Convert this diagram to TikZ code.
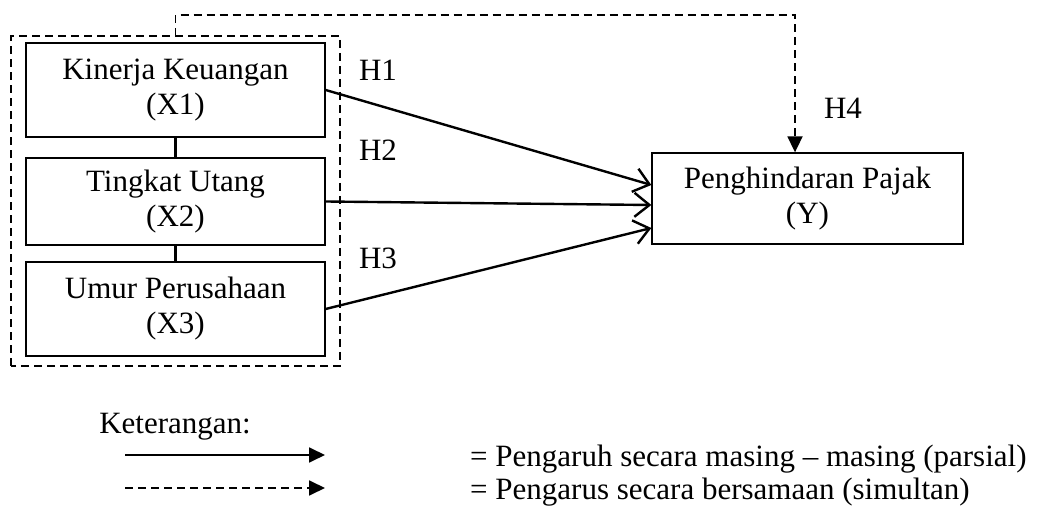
\documentclass[tikz,border=0pt]{standalone}
\usepackage{fontspec}
\setmainfont{Liberation Serif}
\usetikzlibrary{arrows.meta}
\begin{document}
\begin{tikzpicture}[x=1pt, y=1pt,
  varbox/.style={draw, line width=1.3pt, minimum width=299pt, align=center, inner sep=0pt},
  hlabel/.style={anchor=center},
  partial/.style={line width=2.4pt, -{Straight Barb[length=15pt, width=24pt, line width=2.4pt]}},
  simul/.style={line width=1.8pt, dash pattern=on 8pt off 5pt},
  filltip/.style={-{Triangle[length=16pt, width=15pt]}}]
\fontsize{31}{35}\selectfont
% Set the canvas dimensions
\useasboundingbox (0, 0) rectangle (1052, 511);

% Draw the independent variables
\node[varbox, minimum height=94pt] (x1) at (175.5, 421) {Kinerja Keuangan\\(X1)};
\node[varbox, minimum height=87pt] (x2) at (175.5, 309.5) {Tingkat Utang\\(X2)};
\node[varbox, minimum height=94pt] (x3) at (175.5, 202) {Umur Perusahaan\\(X3)};
\draw[line width=2.6pt] (x1) -- (x2);
\draw[line width=2.6pt] (x2) -- (x3);

% Dashed group around the three variables
\draw[simul] (11, 145) rectangle (340, 475);
\coordinate (gtop) at (175.5, 475);

% Dependent variable
\node[draw, line width=1.3pt, minimum width=311pt, minimum height=91pt, align=center, inner sep=0pt] (y) at (807.5, 312.5) {Penghindaran Pajak\\(Y)};

% Partial effects
\draw[partial] (x1.east) -- ([yshift=13.5pt]y.west);
\draw[partial] (x2.east) -- ([yshift=-6.5pt]y.west);
\draw[partial] (x3.east) -- ([yshift=-29.5pt]y.west);
\node[hlabel] (h1) at (378, 441) {H1};
\node[hlabel] (h2) at (378, 361) {H2};
\node[hlabel] (h3) at (378, 253) {H3};

% Simultaneous effect
\draw[simul, filltip] (gtop) -- ++(0, 21) -| ([xshift=-12.5pt]y.north);
\node[hlabel] (h4) at (843, 403) {H4};

% Legend
\node (ket) at (175, 84) {Keterangan:};
\coordinate (la1) at (125, 56);
\coordinate (lb1) at (325, 56);
\coordinate (la2) at (125, 23);
\coordinate (lb2) at (325, 23);
\draw[line width=1.8pt, filltip] (la1) -- (lb1);
\draw[simul, filltip] (la2) -- (lb2);
\node[anchor=west, inner sep=0pt] (t1) at (470, 52) {= Pengaruh secara masing – masing (parsial)};
\node[anchor=west, inner sep=0pt] (t2) at (470, 19) {= Pengarus secara bersamaan (simultan)};
\end{tikzpicture}
\end{document}
